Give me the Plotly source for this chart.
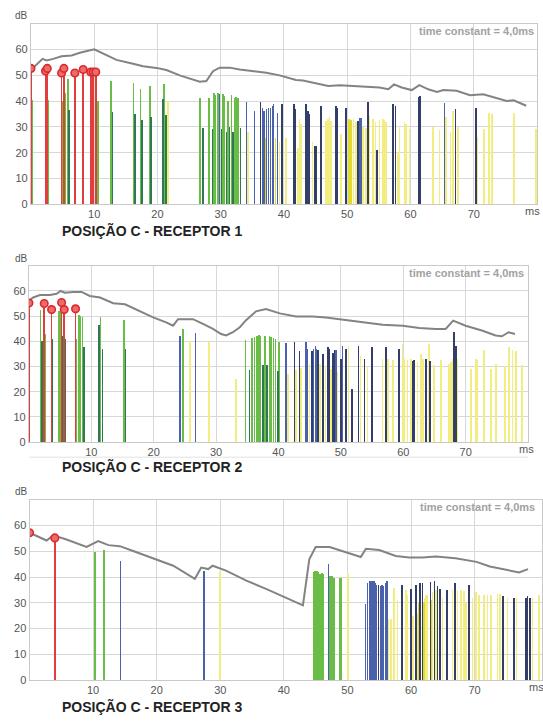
import plotly.graph_objects as go

W, H = 543, 724

# ---------------- DATA ----------------
TITLES = ["POSIÇÃO C - RECEPTOR 1", "POSIÇÃO C - RECEPTOR 2", "POSIÇÃO C - RECEPTOR 3"]
X_TICKS = [10, 20, 30, 40, 50, 60, 70]
Y_TICKS = [0, 10, 20, 30, 40, 50, 60]
NOTE = "time constant = 4,0ms"

# ---- Receptor 1 ----
p1_red_t = [0.0, 2.3, 2.58, 4.84, 5.21, 6.94, 8.26, 9.45, 9.85, 10.25]
p1_red_db = [52.7, 51.7, 52.7, 50.9, 52.7, 50.9, 52.3, 51.3, 51.3, 51.3]
p1_grn_t = [0.15, 2.7, 5.1, 5.45, 5.9, 7.0, 9.4, 9.7, 10.6, 12.7, 16.2, 17.3, 18.8, 21.0, 26.7,
            28.15, 28.94, 29.2, 29.57, 30.36, 30.62, 31.2, 31.73, 32.2, 32.46, 32.73]
p1_grn_db = [40.5, 40.5, 40.0, 43.0, 48.5, 39.5, 47.8, 47.2, 40.0, 47.8, 47.2, 44.6, 45.9, 46.5, 41.4,
             41.4, 43.1, 42.3, 43.3, 42.7, 42.0, 40.1, 42.3, 41.4, 41.8, 41.4]
p1_dkg_t = [6.05, 12.9, 16.5, 17.6, 19.0, 20.9, 21.3, 27.2, 28.68, 30.1, 30.89, 31.41, 31.94, 33.1]
p1_dkg_db = [36.7, 35.9, 35.0, 32.7, 34.0, 41.0, 34.6, 29.5, 29.2, 29.2, 28.0, 29.9, 28.0, 29.5]
p1_blu_t = [29.83, 34.04, 35.36, 36.57, 36.83, 37.2, 37.57, 37.89, 38.15, 38.36, 38.94, 51.93, 52.2, 65.35]
p1_blu_db = [42.7, 39.5, 36.2, 37.5, 36.2, 36.9, 37.5, 37.5, 38.2, 38.8, 35.6, 33.3, 33.3, 39.1]
p1_nav_t = [8.3, 36.31, 39.73, 41.57, 41.83, 43.51, 43.78, 44.04, 44.83, 45.1, 45.89, 48.25, 48.41,
            49.83, 51.67, 53.25, 54.7, 57.2, 57.62, 61.3, 61.51, 67.09, 70.35]
p1_nav_db = [45.9, 39.5, 38.8, 38.8, 36.9, 38.8, 36.2, 34.9, 22.8, 22.5, 38.2, 38.2, 37.5,
             37.5, 32.2, 39.5, 20.9, 38.8, 38.2, 41.5, 42.1, 36.9, 37.5]
p1_yel_t = [21.7, 34.3, 39.31, 40.36, 42.2, 42.46, 42.72, 44.5, 46.68, 46.94, 47.2, 47.46, 49.04,
            50.99, 51.41, 52.46, 52.98, 53.51, 54.04, 54.46, 55.09, 55.62, 55.88, 56.15, 57.99,
            58.25, 59.04, 59.3, 59.83, 63.51, 64.6, 65.61, 66.3, 66.67, 67.46, 70.61, 71.67, 72.45,
            72.87, 76.4, 79.8]
p1_yel_db = [40.0, 28.0, 24.1, 25.6, 22.0, 33.1, 31.2, 24.0, 32.2, 33.0, 34.4, 32.2, 27.3,
             33.1, 31.8, 30.0, 29.5, 34.3, 33.1, 31.8, 32.5, 33.1, 32.5, 31.8, 20.3,
             30.5, 31.8, 31.2, 29.2, 29.9, 29.0, 33.7, 28.0, 36.2, 29.9, 26.0, 29.2, 35.6,
             35.0, 35.3, 29.2]
p1_yl2_t = [36.99, 38.67, 50.25, 50.62]
p1_yl2_db = [25.6, 25.6, 33.1, 32.5]
p1_env_t = [0.0, 0.37, 1.84, 2.47, 3.52, 4.84, 6.42, 7.74, 10.0, 11.42, 13.52, 16.15, 17.73, 19.84,
            21.41, 23.52, 25.63, 26.68, 27.73, 28.78, 29.83, 31.41, 33.0, 35.1, 37.2, 39.3, 41.9,
            43.0, 44.6, 47.0, 48.8, 52.0, 55.1, 56.5, 57.4, 58.6, 60.2, 61.4, 62.8, 64.2, 65.2,
            67.3, 69.4, 71.5, 72.6, 75.2, 76.3, 78.3]
p1_env_db = [52.5, 53.0, 56.4, 55.8, 56.4, 57.4, 57.7, 58.8, 60.1, 58.4, 56.0, 54.5, 53.5, 52.9,
             52.1, 50.0, 48.5, 47.5, 47.8, 51.6, 53.0, 53.0, 52.3, 51.6, 51.0, 50.0, 48.2,
             48.0, 47.2, 45.9, 46.2, 45.6, 45.3, 44.6, 46.5, 45.3, 44.3, 46.2, 44.6, 43.6, 44.3,
             44.0, 42.3, 42.7, 42.0, 40.1, 40.3, 38.2]

# ---- Receptor 2 ----
p2_red_t = [0.0, 2.45, 3.63, 5.23, 5.65, 7.47]
p2_red_db = [55.2, 55.0, 52.6, 55.4, 52.6, 52.9]
p2_grn_t = [0.1, 1.87, 2.67, 4.85, 5.05, 7.63, 8.0, 8.27, 8.59, 11.47, 15.25, 24.7, 34.72, 35.79,
            36.16, 36.53, 36.85, 37.12, 37.87, 38.56, 38.83, 39.2, 39.52, 40.05]
p2_grn_db = [43.0, 52.5, 43.0, 52.0, 51.7, 41.0, 50.6, 50.0, 49.5, 49.5, 48.5, 45.0, 40.7, 41.2,
             41.6, 42.3, 42.6, 42.3, 42.3, 42.3, 41.6, 41.2, 41.0, 39.6]
p2_dkg_t = [2.13, 3.73, 5.39, 5.87, 8.8, 11.25, 11.79, 15.47, 35.36, 37.49, 38.19, 39.89]
p2_dkg_db = [40.0, 41.0, 42.0, 41.0, 37.7, 46.6, 37.0, 37.0, 28.7, 30.5, 30.5, 28.3]
p2_blu_t = [24.2, 26.72, 41.2, 44.43, 44.69, 45.65, 45.92, 46.13, 49.23, 50.29]
p2_blu_db = [42.0, 43.3, 39.3, 39.6, 37.0, 37.0, 38.3, 37.0, 36.4, 38.3]
p2_nav_t = [42.56, 43.36, 45.39, 46.35, 47.09, 47.89, 48.16, 48.69, 48.96, 50.03, 50.83, 51.79,
            52.85, 53.76, 54.99, 57.23, 59.36, 61.49, 61.76, 63.63, 64.32, 68.16, 68.43]
p2_nav_db = [39.9, 36.1, 36.1, 36.4, 35.1, 37.6, 37.0, 35.5, 36.4, 33.0, 37.0, 21.0,
             38.3, 33.0, 37.6, 37.6, 37.0, 32.0, 32.5, 33.0, 32.0, 43.6, 38.3]
p2_yel_t = [25.8, 28.9, 33.2, 41.5, 42.83, 43.63, 44.96, 46.67, 47.52, 48.43, 49.49, 51.2, 53.12,
            54.29, 55.09, 56.69, 57.6, 58.4, 59.89, 60.16, 60.69, 61.23, 62.29, 62.83, 63.2,
            64.16, 64.96, 66.03, 67.36, 67.63, 67.89, 68.69, 70.83, 71.63, 71.89, 72.96, 74.03,
            74.83, 76.32, 76.96, 77.49, 78.03, 79.0]
p2_yel_db = [40.0, 39.8, 25.2, 27.2, 28.5, 29.5, 31.0, 31.0, 30.0, 29.0, 28.0, 38.3, 34.0,
             30.0, 37.6, 33.1, 33.1, 32.4, 38.9, 33.1, 32.4, 33.1, 31.8, 35.1, 33.1,
             38.9, 30.6, 32.4, 31.1, 31.8, 33.1, 33.1, 29.1, 33.1, 32.4, 36.6, 29.1,
             31.1, 30.0, 37.6, 36.6, 36.0, 30.5]
p2_yl2_t = [68.3]
p2_yl2_db = [31.0]
p2_env_t = [0.0, 0.69, 1.76, 3.36, 4.43, 5.07, 5.76, 7.1, 8.43, 9.76, 11.4, 13.5, 15.4, 17.8, 19.9,
            22.0, 23.1, 23.9, 25.2, 26.3, 27.9, 29.5, 30.8, 31.6, 32.7, 33.8, 34.8, 36.4, 38.0,
            40.2, 42.8, 45.5, 47.6, 49.8, 52.4, 54.6, 56.7, 59.9, 62.6, 65.2, 66.8, 68.0, 70.0,
            72.6, 74.8, 75.8, 76.9, 77.9]
p2_env_db = [56.1, 57.4, 58.4, 58.4, 58.9, 60.0, 59.3, 59.6, 59.6, 58.0, 57.4, 55.1, 54.7, 51.9, 49.5,
             47.5, 46.2, 48.8, 48.8, 48.8, 46.9, 44.9, 42.9, 42.3, 43.6, 45.6, 48.4, 51.9, 52.8,
             51.1, 49.9, 49.9, 49.5, 48.8, 47.9, 47.2, 46.6, 46.2, 45.3, 44.9, 44.9, 48.2, 46.2,
             44.3, 42.3, 42.0, 43.6, 42.9]

# ---- Receptor 3 ----
p3_red_t = [0.0, 3.98]
p3_red_db = [57.2, 55.2]
p3_grn_t = [10.26, 11.73, 44.65, 44.91, 45.17, 45.43, 45.69, 45.95, 46.11, 47.26, 47.58, 47.84, 48.73, 48.99]
p3_grn_db = [49.7, 50.5, 41.8, 42.5, 42.5, 41.8, 41.2, 41.5, 41.0, 40.5, 40.5, 39.8, 39.8, 39.5]
p3_dkg_t = []
p3_dkg_db = []
p3_blu_t = [14.3, 27.4, 47.05, 52.81, 53.18, 53.44, 53.7, 53.96, 54.17, 54.38, 54.59, 55.17, 55.43,
            55.69, 55.95, 56.21]
p3_blu_db = [46.3, 42.5, 45.1, 29.7, 37.7, 38.3, 38.3, 38.5, 38.5, 37.7, 37.0, 36.4, 37.0,
             36.4, 37.7, 38.5]
p3_nav_t = [54.91, 58.57, 59.98, 60.76, 61.4, 61.81, 63.07, 63.7, 64.17, 64.54, 65.64, 66.9, 69.14,
            74.48, 76.21, 78.04, 78.3, 78.67]
p3_nav_db = [37.0, 37.0, 35.5, 37.0, 37.5, 37.5, 38.0, 38.5, 36.5, 35.5, 35.0, 37.5, 37.0,
             32.5, 32.0, 32.0, 32.5, 32.0]
p3_yel_t = [30.0, 50.04, 56.47, 56.83, 57.36, 57.88, 59.19, 59.46, 60.35, 61.03, 62.13, 62.34, 62.6,
            63.39, 63.91, 64.96, 66.53, 67.31, 67.84, 68.36, 68.62, 69.67, 70.19, 70.71, 71.5,
            72.02, 72.55, 73.59, 73.96, 75.16, 76.57, 79.09, 80.13]
p3_yel_db = [41.8, 41.2, 23.7, 23.7, 35.8, 31.0, 35.0, 33.0, 25.0, 26.0, 32.0, 33.0, 33.0,
             34.0, 35.0, 32.0, 35.0, 34.5, 35.0, 34.5, 30.0, 32.0, 34.0, 33.0, 33.0,
             33.0, 33.0, 33.5, 33.5, 32.0, 32.0, 32.0, 33.0]
p3_yl2_t = [61.2, 62.0, 63.2]
p3_yl2_db = [30.0, 30.5, 31.0]
p3_env_t = [0.0, 2.68, 3.72, 5.82, 8.96, 10.8, 12.4, 14.2, 16.3, 19.95, 22.6, 26.0, 27.0, 28.1, 28.8,
            30.9, 34.1, 37.2, 39.3, 43.0, 44.0, 45.0, 47.2, 49.5, 52.1, 52.9, 55.0, 57.6, 59.7,
            61.8, 63.9, 67.0, 70.3, 72.4, 74.4, 77.0, 78.4]
p3_env_db = [57.2, 54.2, 56.2, 54.6, 51.7, 54.0, 52.4, 52.0, 50.1, 46.9, 44.4, 39.3, 43.7, 43.1, 44.4,
             42.5, 38.6, 35.4, 33.1, 29.0, 46.9, 51.7, 51.7, 49.8, 47.8, 51.0, 50.5, 48.2, 47.6,
             47.6, 48.0, 47.3, 45.9, 44.1, 43.1, 41.8, 43.1]

PANEL_DATA = [
    dict(red=(p1_red_t, p1_red_db), grn=(p1_grn_t, p1_grn_db), dkg=(p1_dkg_t, p1_dkg_db),
         blu=(p1_blu_t, p1_blu_db), nav=(p1_nav_t, p1_nav_db), yel=(p1_yel_t, p1_yel_db),
         yl2=(p1_yl2_t, p1_yl2_db), env=(p1_env_t, p1_env_db)),
    dict(red=(p2_red_t, p2_red_db), grn=(p2_grn_t, p2_grn_db), dkg=(p2_dkg_t, p2_dkg_db),
         blu=(p2_blu_t, p2_blu_db), nav=(p2_nav_t, p2_nav_db), yel=(p2_yel_t, p2_yel_db),
         yl2=(p2_yl2_t, p2_yl2_db), env=(p2_env_t, p2_env_db)),
    dict(red=(p3_red_t, p3_red_db), grn=(p3_grn_t, p3_grn_db), dkg=(p3_dkg_t, p3_dkg_db),
         blu=(p3_blu_t, p3_blu_db), nav=(p3_nav_t, p3_nav_db), yel=(p3_yel_t, p3_yel_db),
         yl2=(p3_yl2_t, p3_yl2_db), env=(p3_env_t, p3_env_db)),
]

# ---------------- STYLE / LAYOUT ----------------
COLORS = dict(yel="#f1ed80", yl2="#e3da2e", grn="#69bd47", dkg="#2e7856",
              blu="#4a62ad", nav="#333f68", red="#e23c3c")
ORDER = ["yel", "yl2", "grn", "dkg", "blu", "nav", "red"]
BAR_W = dict(yel=0.26, yl2=0.26, grn=0.26, dkg=0.26, blu=0.24, nav=0.26, red=0.28)

# pixel geometry of the three panels: left, right, top, bottom, x max
GEOM = [
    (31, 538, 24, 206, 80),
    (29, 529, 268, 445.7, 80),
    (29.6, 543, 504, 685.7, 80.6),
]
TITLE_Y = [232, 470, 712]
MS_Y = [213, 453, 693]
MS_X = [533, 527, 537]
NOTE_Y = [31, 275, 511]
NOTE_X = [537, 527, 538]
DB_Y = [16, 261, 496]
FONT = "Liberation Sans, Arial, sans-serif"

fig = go.Figure()
for i, pdata in enumerate(PANEL_DATA):
    xa = "x" if i == 0 else f"x{i+1}"
    ya = "y" if i == 0 else f"y{i+1}"
    for key in ORDER:
        t, v = pdata[key]
        if not t:
            continue
        fig.add_trace(go.Bar(x=t, y=v, width=BAR_W[key], marker=dict(color=COLORS[key], line=dict(width=0)),
                             xaxis=xa, yaxis=ya, hoverinfo="skip"))
    et, ev = pdata["env"]
    fig.add_trace(go.Scatter(x=et, y=ev, mode="lines", line=dict(color="#838383", width=2),
                             xaxis=xa, yaxis=ya, hoverinfo="skip"))
    rt, rv = pdata["red"]
    fig.add_trace(go.Scatter(x=rt, y=rv, mode="markers",
                             marker=dict(symbol="circle", size=7.5, color="#ef6b6b",
                                         line=dict(color="#d92b2b", width=1.6)),
                             xaxis=xa, yaxis=ya, hoverinfo="skip"))

layout = dict(width=W, height=H, margin=dict(l=0, r=0, t=0, b=0), showlegend=False,
              paper_bgcolor="white", plot_bgcolor="white", barmode="overlay", bargap=0,
              font=dict(family=FONT, color="#555555", size=11))
annotations = []
shapes = []
for i, (x0, x1, yt, yb, xm) in enumerate(GEOM):
    n = "" if i == 0 else str(i + 1)
    layout["xaxis" + n] = dict(domain=[x0 / W, x1 / W], range=[0, xm], anchor="y" + n,
                               tickvals=X_TICKS, ticktext=[str(v) for v in X_TICKS],
                               showgrid=True, gridcolor="#d8d8d8", gridwidth=1,
                               showline=True, linecolor="#c9c9c9", linewidth=1, mirror=True,
                               zeroline=False, ticks="", tickfont=dict(size=11, color="#555555"))
    layout["yaxis" + n] = dict(domain=[1 - yb / H, 1 - yt / H], range=[0, 70], anchor="x" + n,
                               tickvals=Y_TICKS + [70], ticktext=[str(v) for v in Y_TICKS] + [""],
                               showgrid=True, gridcolor="#d8d8d8", gridwidth=1,
                               showline=True, linecolor="#c9c9c9", linewidth=1, mirror=True,
                               zeroline=False, ticks="", tickfont=dict(size=11, color="#555555"))
    annotations.append(dict(text="dB", x=13 / W, y=1 - DB_Y[i] / H, xref="paper", yref="paper",
                            xanchor="left", yanchor="middle", showarrow=False,
                            font=dict(size=10, color="#555555", family=FONT)))
    annotations.append(dict(text="ms", x=MS_X[i] / W, y=1 - MS_Y[i] / H, xref="paper", yref="paper",
                            xanchor="center", yanchor="middle", showarrow=False,
                            font=dict(size=11, color="#555555", family=FONT)))
    annotations.append(dict(text="<b>" + NOTE + "</b>", x=NOTE_X[i] / W, y=1 - NOTE_Y[i] / H,
                            xref="paper", yref="paper", xanchor="right", yanchor="middle",
                            showarrow=False, font=dict(size=11, color="#a2a2a2", family=FONT)))
    annotations.append(dict(text="<b>" + TITLES[i] + "</b>", x=60 / W, y=1 - TITLE_Y[i] / H,
                            xref="paper", yref="paper", xanchor="left", yanchor="middle",
                            showarrow=False, font=dict(size=14, color="#222222", family=FONT)))
shapes.append(dict(type="line", xref="paper", yref="paper", x0=29 / W, x1=529 / W,
                   y0=1 - 461 / H, y1=1 - 461 / H, line=dict(color="#e2e2e2", width=1)))
layout["annotations"] = annotations
layout["shapes"] = shapes
fig.update_layout(**layout)
fig.write_html("out.html", config={"displayModeBar": False, "staticPlot": True},
               post_script="document.body.style.margin='0';document.body.style.overflow='hidden';")
